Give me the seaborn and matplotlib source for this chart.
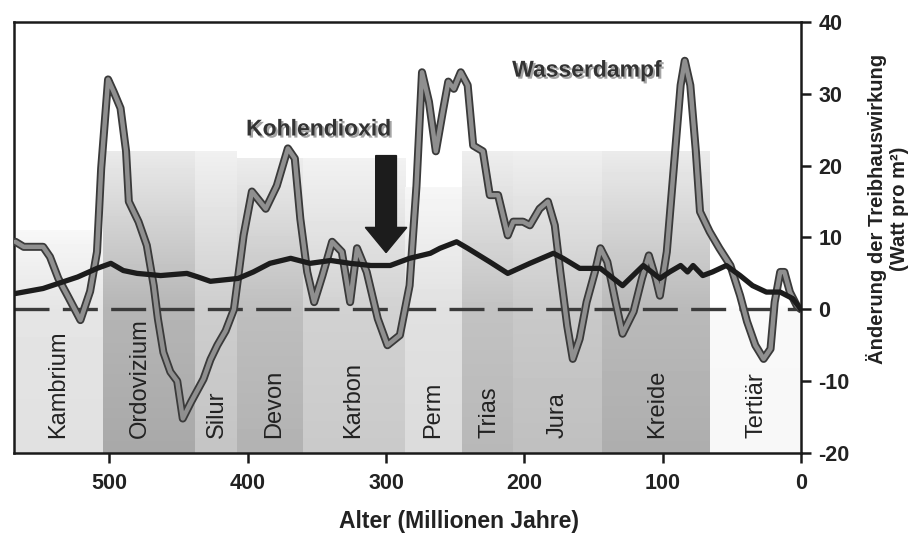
import numpy as np
import seaborn as sns
import matplotlib.pyplot as plt
import matplotlib.patheffects as pe
from matplotlib.patches import FancyArrow

# ---- data ----
# Wasserdampf (grey curve)
wd_age = [568, 562, 548, 543, 537, 530, 521, 514, 509, 506,
          501, 497, 492, 488, 486, 479, 473, 468, 465, 461,
          456, 451, 447, 441, 432, 427, 422, 416, 410, 403,
          397, 387, 379, 371, 366, 362, 357, 352, 346, 339,
          332, 326, 321, 314, 306, 299, 290, 283, 278, 274,
          269, 264, 259, 255, 251, 246, 241, 237, 230, 225,
          219, 212, 208, 201, 196, 189, 183, 178, 174, 169,
          165, 160, 155, 149, 145, 140, 134, 129, 121, 115,
          110, 105, 102, 97, 92, 87, 84, 80, 76, 73,
          66, 59, 51, 44, 39, 33, 27, 22, 19, 15,
          12, 8, 3, 0]
wd_val = [9.4, 8.7, 8.7, 7.3, 4.3, 1.8, -1.5, 2.5, 8.0, 19.6,
          32.0, 30.3, 28.0, 22.0, 15.0, 12.2, 8.9, 3.3, -1.3, -6.0,
          -8.7, -10.0, -15.2, -12.9, -9.7, -7.0, -5.0, -3.0, 0.0, 10.3,
          16.4, 14.0, 17.2, 22.4, 21.0, 12.6, 5.2, 1.0, 4.7, 9.4,
          8.0, 1.0, 8.5, 5.2, -1.3, -5.0, -3.6, 3.3, 17.2, 33.0,
          28.9, 22.0, 27.5, 31.7, 30.7, 33.0, 31.2, 22.8, 22.0, 15.9,
          15.9, 10.3, 12.2, 12.2, 11.7, 14.0, 15.0, 11.7, 5.2, -2.3,
          -6.9, -4.1, 1.0, 5.2, 8.5, 6.6, 1.0, -3.4, -0.3, 4.3,
          7.5, 4.3, 1.9, 8.0, 19.6, 31.2, 34.6, 31.2, 22.0, 13.6,
          10.8, 8.5, 6.1, 1.9, -1.7, -5.0, -6.9, -5.5, 1.0, 5.2,
          5.2, 2.4, 0.5, 0.0]

# Kohlendioxid (black curve)
co2_age = [568, 548, 523, 509, 499, 490, 480, 463, 444, 436,
           427, 407, 396, 384, 369, 355, 340, 326, 311, 297,
           283, 268, 261, 249, 241, 225, 212, 196, 179, 172,
           160, 145, 133, 129, 114, 102, 95, 87, 82, 78,
           71, 64, 54, 44, 35, 25, 15, 6, 0]
co2_val = [2.2, 2.9, 4.5, 5.7, 6.4, 5.4, 5.0, 4.7, 5.0, 4.5,
           3.9, 4.3, 5.2, 6.4, 7.1, 6.4, 6.8, 6.4, 6.1, 6.1,
           7.1, 7.8, 8.5, 9.4, 8.5, 6.6, 5.0, 6.4, 7.8, 7.1,
           5.7, 5.7, 3.9, 3.3, 6.1, 4.3, 5.2, 6.1, 5.2, 6.1,
           4.7, 5.2, 6.1, 4.7, 3.3, 2.4, 2.4, 1.5, 0.0]

# geological periods (start, end in Ma)
periods = ["Kambrium", "Ordovizium", "Silur", "Devon", "Karbon",
           "Perm", "Trias", "Jura", "Kreide", "Tertiär"]
period_start = [570, 505, 438, 408, 360, 286, 245, 208, 144, 66]
period_end = [505, 438, 408, 360, 286, 245, 208, 144, 66, 0]
period_label_x = [537, 478, 422, 381, 324, 266, 225, 176, 104, 32]
period_gray = [0.88, 0.66, 0.77, 0.70, 0.79, 0.86, 0.72, 0.75, 0.68, 0.97]
period_top = [11, 22, 22, 21, 21, 17, 22, 22, 22, 0]

x_ticks = [500, 400, 300, 200, 100, 0]
y_ticks = [40, 30, 20, 10, 0, -10, -20]

# ---- style ----
sns.set_style("ticks")
plt.rcParams['font.family'] = ['Liberation Sans', 'DejaVu Sans']
plt.rcParams['axes.unicode_minus'] = False

fig, ax = plt.subplots(figsize=(9.18, 5.35), dpi=100)
fig.subplots_adjust(left=0.0153, right=0.8725, bottom=0.1533, top=0.9589)

# shaded period bands: flat below zero, fading towards white above it
for g, top, x0, x1 in zip(period_gray, period_top, period_start, period_end):
    ytop = max(top, 0.5)
    yy = np.linspace(-20, ytop, 200)
    g0 = g + (1 - g) * 0.15
    g1 = g + (1 - g) * 0.75
    col = np.where(yy < 0, g + (g0 - g) * (yy + 20) / 20,
                   g0 + (g1 - g0) * (yy / ytop))
    ax.imshow(col.reshape(-1, 1), cmap='gray', vmin=0, vmax=1,
              extent=(x0, x1, -20, ytop), origin='lower',
              aspect='auto', interpolation='nearest', zorder=0)

for name, lx in zip(periods, period_label_x):
    ax.text(lx, -17.9, name, rotation=90, rotation_mode='anchor',
            ha='left', va='center', fontsize=17, color='#222222', zorder=3)

# zero line
ax.axhline(0, color='#3a3a3a', lw=2.4, ls=(0, (10.5, 4)), zorder=2)

# curves
sns.lineplot(x=wd_age, y=wd_val, ax=ax, sort=False, color='#8f8f8f', lw=3.2,
             zorder=4,
             path_effects=[pe.Stroke(linewidth=5.8, foreground='#3a3a3a'),
                           pe.Normal()])
sns.lineplot(x=co2_age, y=co2_val, ax=ax, sort=False, color='#1c1c1c',
             lw=3.8, zorder=5)

# arrow pointing to the CO2 curve
ax.add_patch(FancyArrow(300, 21.4, 0, -13.5, width=15, head_width=30,
                        head_length=3.5, length_includes_head=True,
                        color='#1c1c1c', zorder=6))

shadow = [pe.SimplePatchShadow(offset=(1.5, -1.5), shadow_rgbFace='#9a9a9a',
                               alpha=0.9), pe.Normal()]
ax.text(349, 25.1, "Kohlendioxid", ha='center', va='center', fontsize=16.5,
        fontweight='bold', color='#333333', path_effects=shadow, zorder=7)
ax.text(155, 33.3, "Wasserdampf", ha='center', va='center', fontsize=16.5,
        fontweight='bold', color='#333333', path_effects=shadow, zorder=7)

# axes
ax.set_xlim(569, 0)
ax.set_ylim(-20, 40)
ax.set_xticks(x_ticks)
ax.set_yticks(y_ticks)
ax.yaxis.tick_right()
ax.yaxis.set_label_position('right')
ax.tick_params(axis='both', direction='out', length=7.5, width=1.8,
               color='#1a1a1a', labelsize=15.5, labelcolor='#222222')
ax.tick_params(axis='x', pad=7)
ax.tick_params(axis='y', pad=5)
for lab in ax.get_xticklabels() + ax.get_yticklabels():
    lab.set_fontweight('bold')
for sp in ax.spines.values():
    sp.set_visible(True)
    sp.set_linewidth(1.8)
    sp.set_color('#1a1a1a')

ax.set_xlabel("Alter (Millionen Jahre)", fontsize=16.5, fontweight='bold',
              color='#222222')
ax.xaxis.set_label_coords(0.5654, -0.132)
ax.set_ylabel("Änderung der Treibhauswirkung\n(Watt pro m²)", fontsize=14.5,
              fontweight='bold', color='#222222', linespacing=1.15,
              rotation=90)
ax.yaxis.set_label_coords(1.083, 0.566)

fig.savefig("out.png", dpi=100)
